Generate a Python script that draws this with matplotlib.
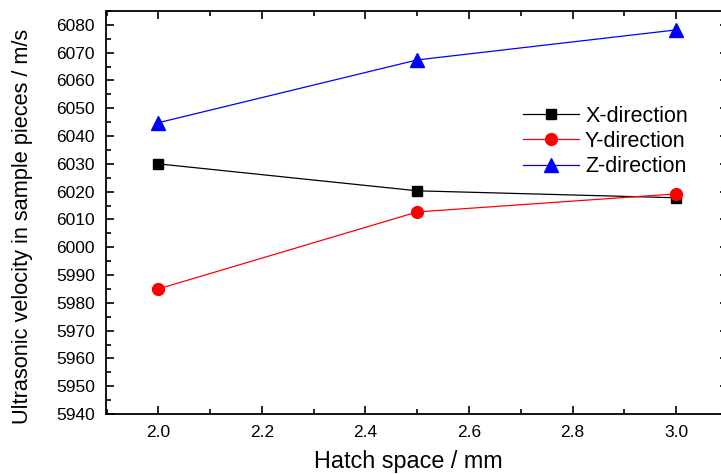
import matplotlib
matplotlib.use("Agg")
import matplotlib.pyplot as plt
from matplotlib.ticker import MultipleLocator

plt.rcParams['font.family'] = ['Liberation Sans', 'DejaVu Sans']

hatch = [2.0, 2.5, 3.0]
x_dir = [6030.0, 6020.3, 6017.8]
y_dir = [5985.0, 6012.7, 6019.2]
z_dir = [6044.8, 6067.4, 6078.2]
x_ticks = [2.0, 2.2, 2.4, 2.6, 2.8, 3.0]
y_ticks = list(range(5940, 6081, 10))

fig = plt.figure(figsize=(7.21, 4.74), dpi=100)
W, H = 721, 474
ax_h = 414 - 11
ax_w = 728 - 106.5
ax = fig.add_axes([106.5 / W, (H - 414) / H, ax_w / W, ax_h / H])

ax.plot(hatch, x_dir, color='black', lw=0.9, marker='s', ms=7.5, label='X-direction')
ax.plot(hatch, y_dir, color='red', lw=0.9, marker='o', ms=8.5, label='Y-direction')
ax.plot(hatch, z_dir, color='blue', lw=0.9, marker='^', ms=9.5, label='Z-direction')

ax.set_xlim(1.9, 3.1)
ax.set_ylim(5940, 6085)
ax.set_xticks(x_ticks)
ax.set_xticklabels([f"{v:.1f}" for v in x_ticks])
ax.set_yticks(y_ticks)
ax.set_yticklabels([str(v) for v in y_ticks])
ax.xaxis.set_minor_locator(MultipleLocator(0.1))
ax.yaxis.set_minor_locator(MultipleLocator(5))
ax.tick_params(which='both', direction='in', top=True, right=True, labelsize=12.5, width=1.2)
ax.tick_params(which='major', length=6)
ax.tick_params(which='minor', length=3.5)
ax.tick_params(axis='x', pad=8)
ax.tick_params(axis='y', pad=8.5)
for s in ax.spines.values():
    s.set_linewidth(1.3)

ax.set_xlabel('Hatch space / mm', fontsize=16.8)
ax.xaxis.label.set_va('bottom')
ax.xaxis.set_label_coords((408 - 106.5) / ax_w, -(473 - 414) / ax_h)
ax.set_ylabel('Ultrasonic velocity in sample pieces / m/s', fontsize=15.7)
ax.yaxis.set_label_coords((33 - 106.5) / ax_w, (414 - 226) / ax_h)

ax.legend(loc='upper left', bbox_to_anchor=((514 - 106.5) / ax_w, (414 - 97) / ax_h),
          frameon=False, fontsize=15.5, handlelength=2.6, handletextpad=0.3,
          labelspacing=0.2, borderaxespad=0)

fig.savefig('out.png', dpi=100)
